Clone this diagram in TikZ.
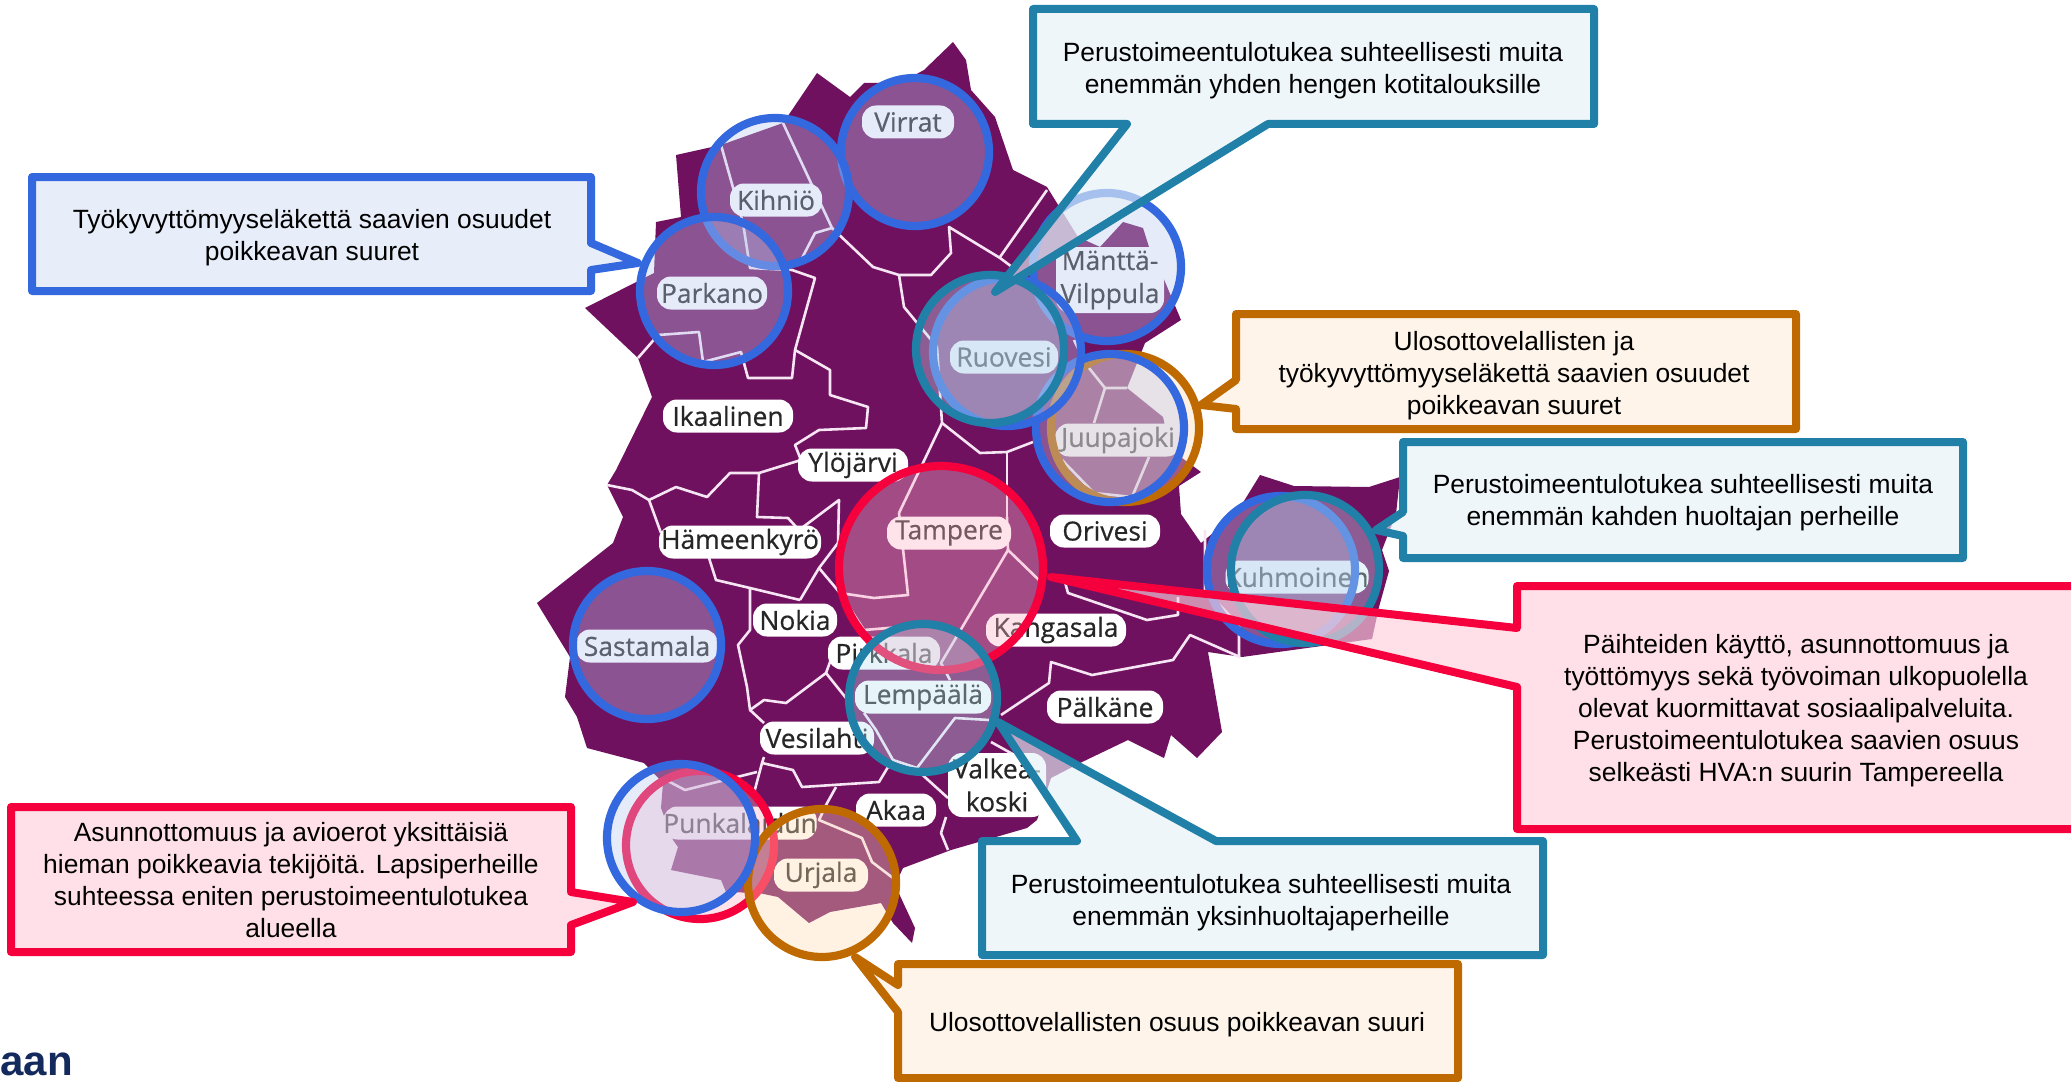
\documentclass[tikz,border=0pt]{standalone}
\usepackage{fontspec}
\setmainfont{Liberation Sans}
\newfontfamily\labfont[FakeBold=0.5]{Open Sans}
\definecolor{mapc}{HTML}{70115F}
\definecolor{mapline}{HTML}{F6E6F4}
\definecolor{cblue}{HTML}{3468DE}
\definecolor{cteal}{HTML}{2080A8}
\definecolor{corange}{HTML}{BF6A00}
\definecolor{cred}{HTML}{F5003D}
\definecolor{fblue}{RGB}{187,200,239}
\definecolor{fteal}{RGB}{190,225,240}
\definecolor{forange}{RGB}{255,220,180}
\definecolor{fred}{RGB}{255,180,200}
\definecolor{bblue}{HTML}{DCE4F8}
\definecolor{bteal}{HTML}{E6F2F8}
\definecolor{borange}{HTML}{FEEFE0}
\definecolor{bred}{HTML}{FFD0DC}
\definecolor{navy}{HTML}{14295C}
\tikzset{
  borders/.style={draw=mapline,line width=1.3pt,line join=round},
  maplabel/.style={fill=white,rounded corners=7pt,inner sep=0pt,minimum height=16.5pt,text=black!85,font=\labfont\fontsize{13.2}{16.5}\selectfont,align=center},
  ring/.style={line width=4.1pt,fill opacity=.36},
  ringblue/.style={ring,draw=cblue,fill=fblue},
  ringteal/.style={ring,draw=cteal,fill=fteal},
  ringorange/.style={ring,draw=corange,fill=forange},
  ringred/.style={ring,draw=cred,fill=fred},
  callout/.style={line width=4pt,line join=round,fill opacity=.65},
  callblue/.style={callout,draw=cblue,fill=bblue},
  callteal/.style={callout,draw=cteal,fill=bteal},
  callorange/.style={callout,draw=corange,fill=borange},
  callred/.style={callout,draw=cred,fill=bred},
  calltext/.style={font=\fontsize{13.2}{16}\selectfont,align=center,text=black,inner sep=0pt}
}
\begin{document}
\begin{tikzpicture}[x=0.5pt,y=-0.5pt]
\useasboundingbox (0,0) rectangle (2071,1081);
\clip (0,0) rectangle (2071,1081);
\fill[white] (0,0) rectangle (2071,1081);
% map
\fill[mapc,line join=round] (676,155)--(721,145)--(783,123)--(792,110)--(817,73)--(850,97)--(864,83)--(900,83)--(924,70)--(953,42)--(966,60)--(971,90)--(995,117)--(1013,170)--(1047,187)--(1078,237)--(1100,247)--(1123,222)--(1143,228)--(1149,247)--(1163,277)--(1181,320)--(1145,343)--(1127,388)--(1163,417)--(1168,440)--(1178,455)--(1201,472)--(1179,486)--(1181,514)--(1201,543)--(1236,514)--(1260,475)--(1294,486)--(1369,487)--(1400,477)--(1396,514)--(1382,550)--(1389,571)--(1379,607)--(1372,639)--(1242,657)--(1208,652)--(1222,732)--(1197,758)--(1171,735)--(1164,758)--(1128,740)--(1080,763)--(1051,778)--(1037,820)--(1027,828)--(951,850)--(903,868)--(895,885)--(915,928)--(912,943)--(893,923)--(881,903)--(830,912)--(809,923)--(778,897)--(759,893)--(726,892)--(721,880)--(671,870)--(678,847)--(673,840)--(661,808)--(663,783)--(644,763)--(587,748)--(577,717)--(565,697)--(570,657)--(537,603)--(613,543)--(623,517)--(607,485)--(616,470)--(652,397)--(638,358)--(585,308)--(654,273)--(656,222)--(681,217)--cycle;
% municipality borders
\draw[borders] (721,145)--(743,223)--(750,268)--(792,270)--(815,278)--(795,350)--(792,378)--(748,378)--(741,352)--(703,362)--(699,332)--(658,335)--(638,358);
\draw[borders] (783,123)--(832,228)--(815,233)--(801,260);
\draw[borders] (832,228)--(873,267)--(899,275)--(931,275)--(951,253)--(949,227)--(1000,258)--(1016,270);
\draw[borders] (1047,190)--(1000,257);
\draw[borders] (899,275)--(904,307)--(937,347)--(942,423)--(922,465)--(899,513);
\draw[borders] (942,423)--(980,453)--(1007,452)--(1033,442);
\draw[borders] (1007,452)--(1007,517);
\draw[borders] (1074,340)--(1085,363)--(1105,388)--(1127,388);
\draw[borders] (1105,388)--(1094,423);
\draw[borders] (1062,460)--(1094,493)--(1132,497)--(1149,457);
\draw[borders] (795,350)--(830,370)--(830,395)--(868,407)--(866,428)--(819,430)--(795,445)--(801,460)--(759,473)--(730,473)--(707,497)--(676,487)--(649,500)--(632,490)--(607,485);
\draw[borders] (649,500)--(661,533);
\draw[borders] (759,473)--(757,517)--(788,518)--(799,530)--(839,500)--(838,543)--(819,568)--(800,600);
\draw[borders] (819,568)--(840,593)--(874,598)--(908,595)--(905,567)--(899,513);
\draw[borders] (840,593)--(864,630)--(900,627);
\draw[borders] (1007,517)--(1008,550)--(1042,583);
\draw[borders] (1008,550)--(941,663)--(950,680);
\draw[borders] (709,558)--(716,580)--(750,588)--(800,600);
\draw[borders] (750,588)--(750,630)--(738,645)--(747,687)--(750,710)--(764,700)--(786,703)--(826,673)--(850,703);
\draw[borders] (826,673)--(838,640);
\draw[borders] (750,710)--(764,723);
\draw[borders] (764,757)--(762,763)--(793,770)--(802,787)--(879,782)--(888,767)--(917,770)--(948,798);
\draw[borders] (757,772)--(685,790)--(666,780);
\draw[borders] (762,763)--(754,793);
\draw[borders] (836,787)--(826,805)--(819,820)--(862,838)--(872,862)--(893,878);
\draw[borders] (864,713)--(876,730)--(893,760)--(917,768)--(955,718)--(989,720);
\draw[borders] (1001,715)--(1049,683)--(1051,662)--(1092,675)--(1173,660)--(1190,635)--(1240,657);
\draw[borders] (1063,575)--(1068,593)--(1147,620)--(1178,615)--(1178,597);
\draw[borders] (991,742)--(1018,757);
\draw[borders] (946,817)--(941,833)--(948,850);
\draw[borders] (1205,530)--(1205,590)--(1239,625)--(1239,657);
% labels
\node[maplabel,minimum width=46pt] (virrat) at (908,122) {Virrat};
\node[maplabel,minimum width=46pt] (kihnio) at (776,200) {Kihniö};
\node[maplabel,minimum width=55pt] (parkano) at (712,293) {Parkano};
\node[maplabel,minimum width=54pt,minimum height=33pt] (mantta) at (1110,280) {Mänttä-\\Vilppula};
\node[maplabel,minimum width=54pt] (ruovesi) at (1004,357) {Ruovesi};
\node[maplabel,minimum width=63pt] (juupajoki) at (1118,440) {Juupajoki};
\node[maplabel,minimum width=65pt] (ikaalinen) at (728,416) {Ikaalinen};
\node[maplabel,minimum width=55pt] (ylojarvi) at (853,465) {Ylöjärvi};
\node[maplabel,minimum width=81pt] (hameenkyro) at (740,542) {Hämeenkyrö};
\node[maplabel,minimum width=62pt] (tampere) at (949,533) {Tampere};
\node[maplabel,minimum width=55pt] (orivesi) at (1105,531) {Orivesi};
\node[maplabel,minimum width=71pt] (sastamala) at (647,646) {Sastamala};
\node[maplabel,minimum width=42pt] (nokia) at (795,620) {Nokia};
\node[maplabel,minimum width=56pt] (pirkkala) at (884,653) {Pirkkala};
\node[maplabel,minimum width=70pt] (kangasala) at (1056,630) {Kangasala};
\node[maplabel,minimum width=68pt] (lempaala) at (923,697) {Lempäälä};
\node[maplabel,minimum width=58pt] (palkane) at (1105,707) {Pälkäne};
\node[maplabel,minimum width=57pt] (vesilahti) at (817,738) {Vesilahti};
\node[maplabel,minimum width=49pt,minimum height=32pt] (valkeakoski) at (997,785) {Valkea-\\koski};
\node[maplabel,minimum width=40pt] (akaa) at (896,810) {Akaa};
\node[maplabel,minimum width=76pt] (punkalaidun) at (740,823) {Punkalaidun};
\node[maplabel,minimum width=47pt] (urjala) at (821,875) {Urjala};
\node[maplabel,minimum width=71pt] (kuhmoinen) at (1297,577) {Kuhmoinen};
% circles
\path[ringblue] (915,152) circle (74);
\path[ringblue] (775,192) circle (74);
\path[ringblue] (714,291) circle (74);
\path[ringblue] (1107,267) circle (74);
\path[ringorange] (1125,428) circle (74);
\path[ringblue] (1110,428) circle (74);
\path[ringblue] (1007,352) circle (74);
\path[ringteal] (990,349) circle (74);
\path[ringred] (941,568) circle (102);
\path[ringteal] (923,698) circle (74);
\path[ringblue] (647,645) circle (74);
\path[ringred] (700,845) circle (74);
\path[ringorange] (822,883) circle (74);
\path[ringblue] (681,838) circle (74);
\path[ringblue] (1281,570) circle (74);
\path[ringteal] (1305,569) circle (74);
% callouts
\path[callblue] (32,177)--(591,177)--(591,243)--(638,263)--(591,270)--(591,291)--(32,291)--cycle;
\node[calltext] (tblue) at (312,238) {Työkyvyttömyyseläkettä saavien osuudet\\poikkeavan suuret};
\path[callteal] (1033,9)--(1594,9)--(1594,124)--(1268,124)--(995,292)--(1127,124)--(1033,124)--cycle;
\node[calltext] (tteal1) at (1313,71) {Perustoimeentulotukea suhteellisesti muita\\enemmän yhden hengen kotitalouksille};
\path[callorange] (1236,314)--(1796,314)--(1796,429)--(1236,429)--(1236,409)--(1201,405)--(1236,380)--cycle;
\node[calltext] (torange1) at (1514,376) {Ulosottovelallisten ja\\työkyvyttömyyseläkettä saavien osuudet\\poikkeavan suuret};
\path[callteal] (1403,442)--(1963,442)--(1963,558)--(1403,558)--(1403,536)--(1376,530)--(1403,512)--cycle;
\node[calltext] (tteal2) at (1683,503) {Perustoimeentulotukea suhteellisesti muita\\enemmän kahden huoltajan perheille};
\path[callred] (1517,586)--(2090,586)--(2090,829)--(1517,829)--(1517,687)--(1051,577)--(1517,628)--cycle;
\node[calltext] (tred1) at (1796,711) {Päihteiden käyttö, asunnottomuus ja\\työttömyys sekä työvoiman ulkopuolella\\olevat kuormittavat sosiaalipalveluita.\\Perustoimeentulotukea saavien osuus\\selkeästi HVA:n suurin Tampereella};
\path[callteal] (982,841)--(1077,841)--(998,722)--(1216,841)--(1543,841)--(1543,955)--(982,955)--cycle;
\node[calltext] (tteal3) at (1261,903) {Perustoimeentulotukea suhteellisesti muita\\enemmän yksinhuoltajaperheille};
\path[callorange] (898,964)--(1458,964)--(1458,1078)--(898,1078)--(898,1012)--(855,957)--(898,985)--cycle;
\node[calltext] (torange2) at (1177,1025) {Ulosottovelallisten osuus poikkeavan suuri};
\path[callred] (11,807)--(571,807)--(571,892)--(633,902)--(571,925)--(571,952)--(11,952)--cycle;
\node[calltext] (tred2) at (291,880) {Asunnottomuus ja avioerot yksittäisiä\\hieman poikkeavia tekijöitä. Lapsiperheille\\suhteessa eniten perustoimeentulotukea\\alueella};
% logo fragment
\node[anchor=base west,inner sep=0pt,text=navy,font=\bfseries\fontsize{21}{21}\selectfont] (logo) at (0,1075) {aan};
\end{tikzpicture}
\end{document}
